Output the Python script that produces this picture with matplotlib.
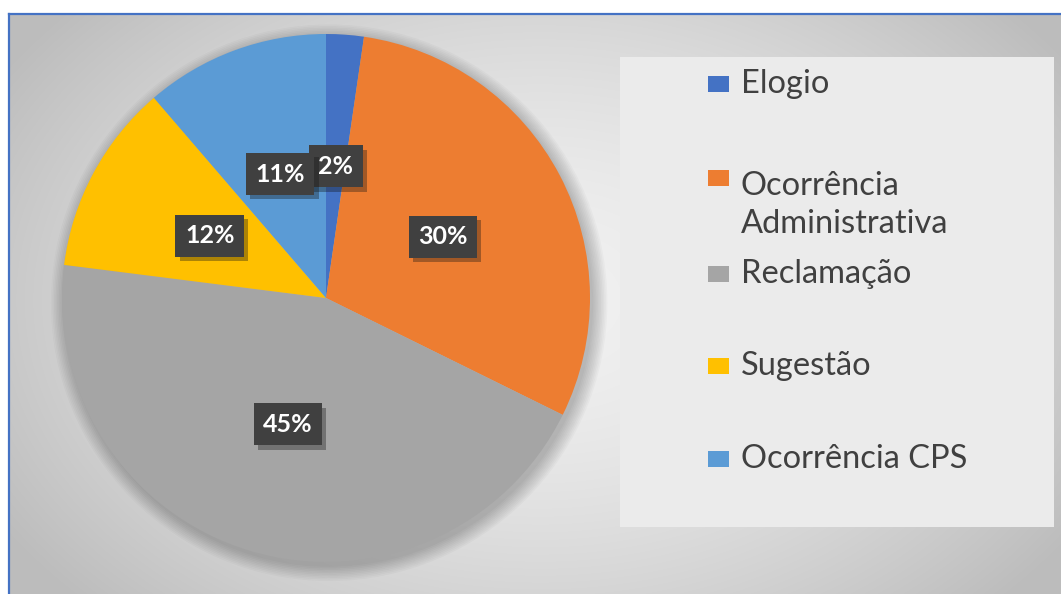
import numpy as np
import matplotlib
matplotlib.use('Agg')
import matplotlib.pyplot as plt
from matplotlib.patches import Rectangle, Circle
import matplotlib.patheffects as pe

plt.rcParams['font.family'] = ['Lato', 'DejaVu Sans']

# data
categories = ['Elogio', 'Ocorrência Administrativa', 'Reclamação', 'Sugestão', 'Ocorrência CPS']
legend_labels = ['Elogio', 'Ocorrência\nAdministrativa', 'Reclamação', 'Sugestão', 'Ocorrência CPS']
shares = [2.3, 30.0, 44.7, 11.7, 11.3]
colors = ['#4472C4', '#ED7D31', '#A5A5A5', '#FFC000', '#5B9BD5']

W, H = 1061, 594
fig = plt.figure(figsize=(W / 100, H / 100), dpi=100)

# background: soft radial grey gradient inside a blue frame
bg = fig.add_axes([0, 0, 1, 1])
yy, xx = np.mgrid[0:H, 0:W]
d = np.sqrt(((xx - 540) / 620.0) ** 2 + ((yy - 300) / 430.0) ** 2)
v = np.clip(0.945 - 0.2 * d ** 1.6, 0.74, 1)
img = np.dstack([v, v, v])
img[:14, :] = 1
img[:, :9] = 1
bg.imshow(img, extent=[0, W, H, 0], aspect='auto', interpolation='bilinear')
bg.set_xlim(0, W)
bg.set_ylim(H, 0)
bg.axis('off')
bg.plot([9, W], [14, 14], color='#4472C4', lw=1.6)
bg.plot([9, 9], [14, H], color='#4472C4', lw=1.6)

# legend panel, drawn by hand to match the spacing of the original
bg.add_patch(Rectangle((620, 57), 434, 470, facecolor='#ebebeb', edgecolor='none'))
baselines = [93, 187, 283, 375, 468]
line_step = 46
for lab, col, base in zip(legend_labels, colors, baselines):
    n = lab.count('\n')
    bg.add_patch(Rectangle((708, base - 17), 21, 16, facecolor=col, edgecolor='none'))
    bg.text(741, base + n * line_step, lab, fontsize=23.5, color='#404040',
            va='baseline', ha='left', linespacing=1.35)

# pie
ax = fig.add_axes([62 / W, 32 / H, 528 / W, 528 / H])
for i in range(10):
    ax.add_patch(Circle((0.012, -0.018), 1 + 0.006 * i, facecolor='black',
                        edgecolor='none', alpha=0.025, zorder=0, clip_on=False))
wedges, texts, autotexts = ax.pie(shares, colors=colors, startangle=90, counterclock=False,
                                  autopct='%.0f%%', pctdistance=0.5,
                                  wedgeprops=dict(linewidth=0))
for w in wedges:
    w.set_zorder(2)
    w.set_clip_on(False)
for t in autotexts:
    t.set_color('white')
    t.set_fontsize(18)
    t.set_fontweight('bold')
    t.set_zorder(5)
    t.set_bbox(dict(boxstyle='square,pad=0.38', facecolor='#404040', edgecolor='none'))
    t.get_bbox_patch().set_path_effects([pe.SimplePatchShadow(offset=(3, -3), alpha=0.35),
                                         pe.Normal()])
ax.set_xlim(-1, 1)
ax.set_ylim(-1, 1)

fig.savefig('out.png', dpi=100)
